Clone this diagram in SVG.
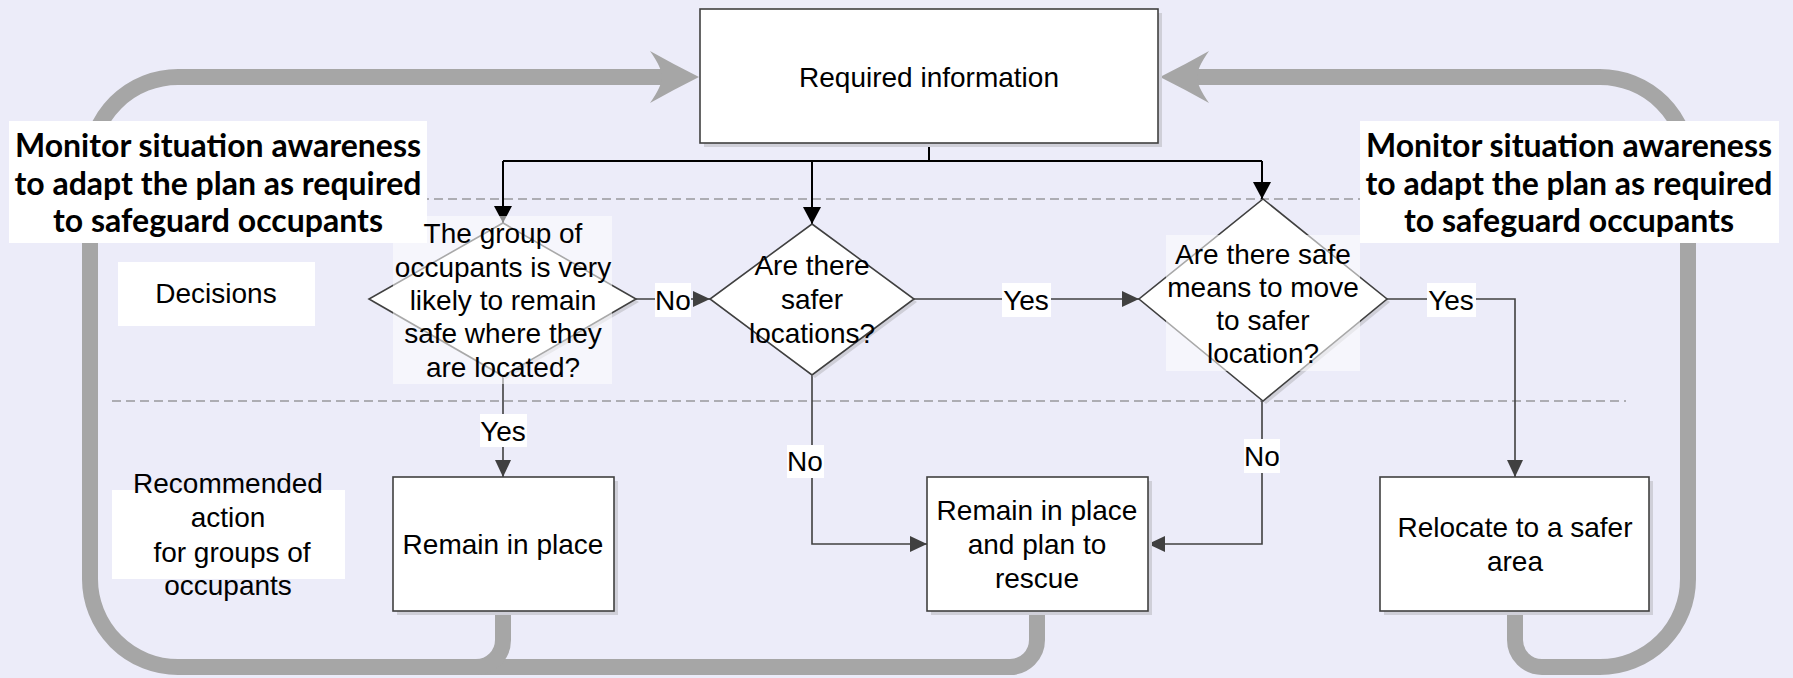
<svg xmlns="http://www.w3.org/2000/svg" width="1793" height="678" viewBox="0 0 1793 678">
<style>
.t{font-family:"Liberation Sans",Arial,sans-serif;font-size:28px;fill:#000;text-anchor:middle}
.b{font-family:Lato,"Liberation Sans",sans-serif;font-weight:bold;font-size:32px;fill:#000;text-anchor:middle}
.box{fill:#fff;stroke:#404040;stroke-width:1.6}
.sh{fill:#cfcfd8}
.loop{fill:none;stroke:#a6a6a6;stroke-width:16}
.con{fill:none;stroke:#404040;stroke-width:1.6}
.blk{fill:none;stroke:#000;stroke-width:2}
.dash{stroke:#6e6e6e;stroke-width:1.2;stroke-dasharray:9 5}
.lbl{fill:#fff}
</style>
<defs>
<marker id="ag" markerUnits="userSpaceOnUse" markerWidth="18" markerHeight="18" refX="17" refY="8" orient="auto"><path d="M0,0 L17,8 L0,16 z" fill="#404040"/></marker>
<marker id="ab" markerUnits="userSpaceOnUse" markerWidth="20" markerHeight="20" refX="17" refY="9" orient="auto"><path d="M0,0 L17,9 L0,18 z" fill="#000"/></marker>
</defs>
<rect x="0" y="0" width="1793" height="678" fill="#ececf9"/>
<g id="lanes">
<line class="dash" x1="112" y1="199" x2="1626" y2="199"/>
<line class="dash" x1="112" y1="401" x2="1626" y2="401"/>
</g>
<g id="loops">
<path class="loop" d="M1037,611 V640 A27,27 0 0 1 1010,667 H178 A88,88 0 0 1 90,579 V165 A88,88 0 0 1 178,77 H666"/>
<path class="loop" d="M503,611 V640 A27,27 0 0 1 476,667"/>
<path d="M699,77 Q673,64 650,51 Q662,68 662,77 Q662,86 650,103 Q673,90 699,77 Z" fill="#a6a6a6"/>
<path class="loop" d="M1515,611 V640 A27,27 0 0 0 1542,667 H1600 A88,88 0 0 0 1688,579 V165 A88,88 0 0 0 1600,77 H1194"/>
<path d="M1160,77 Q1186,64 1209,51 Q1197,68 1197,77 Q1197,86 1209,103 Q1186,90 1160,77 Z" fill="#a6a6a6"/>
</g>
<g id="monitor-left">
<rect x="9" y="121" width="418" height="122" fill="#fff"/>
<text class="b" x="218" y="157">Monitor situation awareness</text>
<text class="b" x="218" y="195">to adapt the plan as required</text>
<text class="b" x="218" y="232">to safeguard occupants</text>
</g>
<g id="monitor-right">
<rect x="1360" y="121" width="419" height="122" fill="#fff"/>
<text class="b" x="1569" y="157">Monitor situation awareness</text>
<text class="b" x="1569" y="195">to adapt the plan as required</text>
<text class="b" x="1569" y="232">to safeguard occupants</text>
</g>
<g id="lane-decisions">
<rect x="118" y="262" width="197" height="64" fill="#fff"/>
<text class="t" x="216" y="303">Decisions</text>
</g>
<g id="lane-actions">
<rect x="112" y="490" width="233" height="89" fill="#fff"/>
<text class="t" x="228" y="493">Recommended</text>
<text class="t" x="228" y="527">action</text>
<text class="t" x="232" y="562">for groups of</text>
<text class="t" x="228" y="595">occupants</text>
</g>
<g id="connectors">
<path class="blk" d="M929,143 V161"/>
<path class="blk" d="M503,161 H1262"/>
<path class="blk" d="M503,161 V223" marker-end="url(#ab)"/>
<path class="blk" d="M812,161 V224" marker-end="url(#ab)"/>
<path class="blk" d="M1262,161 V199" marker-end="url(#ab)"/>
<path class="con" d="M636,299 H710" marker-end="url(#ag)"/>
<path class="con" d="M914,299 H1139" marker-end="url(#ag)"/>
<path class="con" d="M1387,299 H1515 V477" marker-end="url(#ag)"/>
<path class="con" d="M503,376 V477" marker-end="url(#ag)"/>
<path class="con" d="M812,375 V544 H927" marker-end="url(#ag)"/>
<path class="con" d="M1262,401 V544 H1148" marker-end="url(#ag)"/>
<rect class="lbl" x="655" y="283" width="36" height="34"/><text class="t" x="673" y="310">No</text>
<rect class="lbl" x="1002" y="283" width="49" height="34"/><text class="t" x="1026" y="310">Yes</text>
<rect class="lbl" x="1427" y="283" width="49" height="34"/><text class="t" x="1451" y="310">Yes</text>
<rect class="lbl" x="480" y="414" width="47" height="33"/><text class="t" x="503" y="441">Yes</text>
<rect class="lbl" x="787" y="445" width="37" height="33"/><text class="t" x="805" y="471">No</text>
<rect class="lbl" x="1244" y="439" width="36" height="34"/><text class="t" x="1262" y="466">No</text>
</g>
<g id="required-information">
<rect class="sh" x="704" y="13" width="458" height="134"/>
<rect class="box" x="700" y="9" width="458" height="134"/>
<text class="t" x="929" y="87">Required information</text>
</g>
<g id="decision-safe">
<polygon class="sh" points="506,226 639,302 506,379 372,302"/>
<polygon class="box" points="503,223 636,299 503,376 369,299"/>
<rect x="393" y="216" width="219" height="168" fill="#fff" fill-opacity="0.55"/>
<text class="t" x="503" y="243">The group of</text>
<text class="t" x="503" y="277">occupants is very</text>
<text class="t" x="503" y="310">likely to remain</text>
<text class="t" x="503" y="343">safe where they</text>
<text class="t" x="503" y="377">are located?</text>
</g>
<g id="decision-safer">
<polygon class="sh" points="815,227 917,302 815,378 713,302"/>
<polygon class="box" points="812,224 914,299 812,375 710,299"/>
<text class="t" x="812" y="275">Are there</text>
<text class="t" x="812" y="309">safer</text>
<text class="t" x="812" y="343">locations?</text>
</g>
<g id="decision-means">
<polygon class="sh" points="1266,202 1390,302 1266,404 1142,302"/>
<polygon class="box" points="1263,199 1387,299 1263,401 1139,299"/>
<rect x="1166" y="235" width="194" height="136" fill="#fff" fill-opacity="0.55"/>
<text class="t" x="1263" y="264">Are there safe</text>
<text class="t" x="1263" y="297">means to move</text>
<text class="t" x="1263" y="330">to safer</text>
<text class="t" x="1263" y="363">location?</text>
</g>
<g id="remain">
<rect class="sh" x="397" y="481" width="221" height="134"/>
<rect class="box" x="393" y="477" width="221" height="134"/>
<text class="t" x="503" y="554">Remain in place</text>
</g>
<g id="remain-rescue">
<rect class="sh" x="931" y="481" width="221" height="134"/>
<rect class="box" x="927" y="477" width="221" height="134"/>
<text class="t" x="1037" y="520">Remain in place</text>
<text class="t" x="1037" y="554">and plan to</text>
<text class="t" x="1037" y="588">rescue</text>
</g>
<g id="relocate">
<rect class="sh" x="1384" y="481" width="269" height="134"/>
<rect class="box" x="1380" y="477" width="269" height="134"/>
<text class="t" x="1515" y="537">Relocate to a safer</text>
<text class="t" x="1515" y="571">area</text>
</g>
</svg>
